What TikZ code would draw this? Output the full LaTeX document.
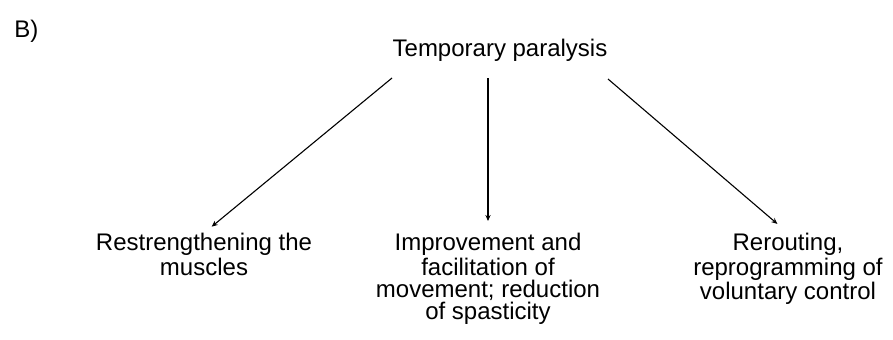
\documentclass[tikz,border=0pt]{standalone}
\usepackage{fontspec}
\setmainfont{Liberation Sans}
\usetikzlibrary{arrows.meta}
\tikzset{
  lbl/.style={align=center, inner sep=0pt, font=\fontsize{12}{11}\selectfont},
  arr/.style={-{Stealth[length=3pt,width=2.6pt]}, line width=0.55pt}
}
\begin{document}
\begin{tikzpicture}[x=0.5pt,y=-0.5pt]
            \useasboundingbox (0,0) rectangle (893,339);
            %Nodes
            \node[lbl, anchor=base west] at (14,37) (B)   {B)};
            \node[lbl, anchor=base] at (500,56)  (tp)   {Temporary paralysis};
            \node[lbl, anchor=north] at (204,233) (mus)  {Restrengthening the\\muscles};
            \node[lbl, anchor=north] at (488,233) (mov)  {Improvement and\\facilitation of\\movement; reduction\\of spasticity};
            \node[lbl, anchor=north] at (788,233) (vol)  {Rerouting,\\reprogramming of\\voluntary control};
            \coordinate (tl) at (392,78);
            \coordinate (tm) at (488,78);
            \coordinate (tr) at (608,79);

            %Lines
            \draw[arr, shorten >=5pt] (tl) -- (mus.north);
            \draw[arr, shorten >=6pt] (tm) -- (mov.north);
            \draw[arr, shorten >=7pt] (tr) -- (vol.north);
\end{tikzpicture}
\end{document}
